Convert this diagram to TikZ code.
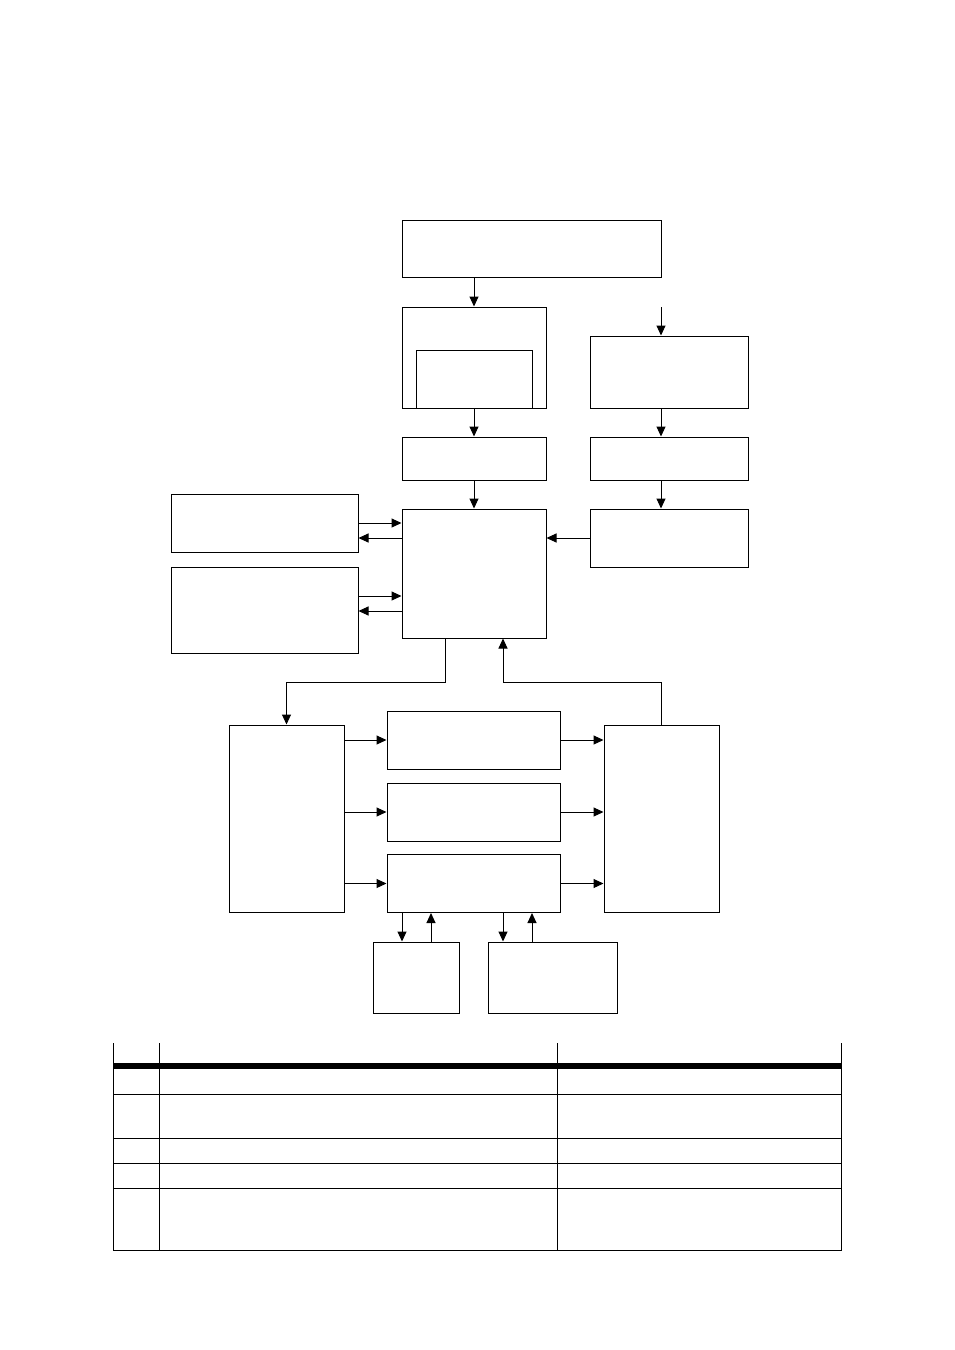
\documentclass[tikz,border=0pt]{standalone}
\usepackage{tikz}
\usetikzlibrary{arrows.meta, calc}
\tikzset{
  blk/.style={
    draw,
    rectangle,
    line width=1pt,
    inner sep=0pt,
    fill=white
  },
  arr/.style={
    -{Triangle[length=10pt, width=9pt]},
    line width=1pt
  },
  grid line/.style={
    line width=1pt
  }
}

\begin{document}
\begin{tikzpicture}[x=1pt, y=-1pt]
  \useasboundingbox (0,0) rectangle (954,1350);

  %% ---- 上部 ----
  \node[blk, minimum width=259, minimum height=57] (top) at (531.5,248.5) {};
  \node[blk, minimum width=144, minimum height=101] (A) at (474,357.5) {};
  \node[blk, minimum width=116, minimum height=58] (Ain) at (474,379) {};
  \node[blk, minimum width=158, minimum height=72] (B) at (669,372) {};
  \node[blk, minimum width=144, minimum height=43] (C) at (474,458.5) {};
  \node[blk, minimum width=158, minimum height=43] (D) at (669,458.5) {};

  \coordinate (bIn) at (661,307);
  \draw[arr] (top.south -| A.north) -- (A.north);
  \draw[arr] (bIn) -- (B.north -| bIn);
  \draw[arr] (A.south) -- (C.north);
  \draw[arr] (B.south -| bIn) -- (D.north -| bIn);

  %% ---- 中部 ----
  \node[blk, minimum width=144, minimum height=129] (M) at (474,573.5) {};
  \node[blk, minimum width=158, minimum height=58] (E) at (669,538) {};
  \node[blk, minimum width=187, minimum height=58] (L1) at (264.5,523) {};
  \node[blk, minimum width=187, minimum height=86] (L2) at (264.5,610) {};

  \draw[arr] (C.south) -- (M.north);
  \draw[arr] (D.south -| bIn) -- (E.north -| bIn);
  \draw[arr] (E.west) -- (E.west -| M.east);
  \draw[arr] (L1.east) -- (L1.east -| M.west);
  \draw[arr] ($(M.west |- L1.east)+(0,15)$) -- ($(L1.east)+(0,15)$);
  \draw[arr] ($(L2.east)+(0,-14)$) -- ($(M.west |- L2.east)+(0,-14)$);
  \draw[arr] ($(M.west |- L2.east)+(0,1)$) -- ($(L2.east)+(0,1)$);

  %% ---- 下部 ----
  \node[blk, minimum width=115, minimum height=187] (P) at (286.5,818.5) {};
  \node[blk, minimum width=115, minimum height=187] (Q) at (661.5,818.5) {};
  \foreach \i/\y in {1/740, 2/812, 3/883.5} {
    \node[blk, minimum width=173, minimum height=58] (R\i) at (473.5,\y) {};
    \draw[arr] (P.east |- R\i.west) -- (R\i.west);
    \draw[arr] (R\i.east) -- (Q.west |- R\i.east);
  }
  \node[blk, minimum width=86, minimum height=71] (S1) at (416,977.5) {};
  \node[blk, minimum width=129, minimum height=71] (S2) at (552.5,977.5) {};

  \coordinate (mOut) at (445,682);
  \coordinate (mIn) at (503,682);
  \draw[arr] (M.south -| mOut) -- (mOut) -| (P.north);
  \draw[arr] (Q.north) |- (mIn) -- (M.south -| mIn);

  \foreach \s/\a/\b in {S1/402/431, S2/503/532} {
    \draw[arr] (R3.south -| \a,0) -- (\s.north -| \a,0);
    \draw[arr] (\s.north -| \b,0) -- (R3.south -| \b,0);
  }

  %% ---- 表 ----
  \foreach \x in {113,159,557,841} { \draw[grid line] (\x,1043) -- (\x,1251); }
  \draw[line width=5.5pt] (113,1066) -- (841,1066);
  \foreach \y in {1094,1138,1163,1188,1250.5} { \draw[grid line] (113,\y) -- (841,\y); }

\end{tikzpicture}
\end{document}
